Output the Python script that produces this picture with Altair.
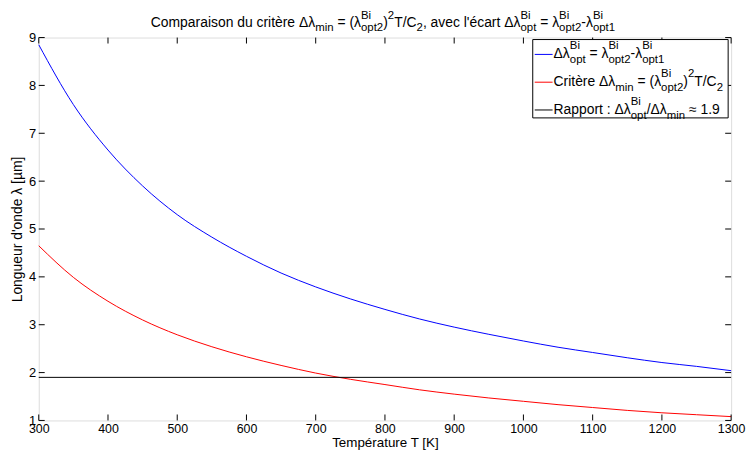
import altair as alt
import pandas as pd

# ---- data ----
temperature = [300, 350, 400, 450, 500, 550, 600, 650, 700, 750, 800,
               850, 900, 950, 1000, 1050, 1100, 1150, 1200, 1250, 1300]
delta_opt = [8.85, 7.60, 6.65, 5.90, 5.30, 4.83, 4.43, 4.08, 3.79, 3.54, 3.32,
             3.12, 2.95, 2.80, 2.66, 2.53, 2.42, 2.31, 2.21, 2.13, 2.04]
delta_min = [4.65, 3.99, 3.49, 3.10, 2.79, 2.54, 2.33, 2.15, 1.99, 1.86, 1.75,
             1.64, 1.55, 1.47, 1.40, 1.33, 1.27, 1.21, 1.16, 1.12, 1.08]
ratio_level = 1.9
x_ticks = [300, 400, 500, 600, 700, 800, 900, 1000, 1100, 1200, 1300]
y_ticks = [1, 2, 3, 4, 5, 6, 7, 8, 9]

x_title = "Température T [K]"
y_title = "Longueur d'onde λ [µm]"
# rich text: ("n", text) normal, ("sub", t), ("sup", t), ("ss", sup, sub) stacked
title_segments = [("n", "Comparaison du critère Δλ"), ("sub", "min"), ("n", " = (λ"),
                  ("ss", "Bi", "opt2"), ("n", ")"), ("sup", "2"), ("n", "T/C"), ("sub", "2"),
                  ("n", ", avec l'écart Δλ"), ("ss", "Bi", "opt"), ("n", " = λ"),
                  ("ss", "Bi", "opt2"), ("n", "-λ"), ("ss", "Bi", "opt1")]
legend_rows = [
    [("n", "Δλ"), ("ss", "Bi", "opt"), ("n", " = λ"), ("ss", "Bi", "opt2"),
     ("n", "-λ"), ("ss", "Bi", "opt1")],
    [("n", "Critère Δλ"), ("sub", "min"), ("n", " = (λ"), ("ss", "Bi", "opt2"),
     ("n", ")"), ("sup", "2"), ("n", "T/C"), ("sub", "2")],
    [("n", "Rapport : Δλ"), ("ss", "Bi", "opt"), ("n", "/Δλ"), ("sub", "min"),
     ("n", " ≈ 1.9")],
]
legend_colors = ["#0000ff", "#ff0000", "#000000"]

FONT = "Liberation Sans"
W, H = 698, 386
TICK = 6
BASE, SMALL = 14, 11.5

# Arial / Liberation Sans advance widths (1/1000 em)
ADV = {" ": 278, "'": 191, "(": 333, ")": 333, ",": 278, "-": 333, ".": 278, "/": 278,
       ":": 278, "=": 584, "≈": 584, "B": 667, "C": 722, "R": 722, "T": 611,
       "a": 556, "c": 500, "d": 556, "e": 556, "è": 556, "é": 556, "i": 222, "l": 222,
       "m": 833, "n": 556, "o": 556, "p": 556, "r": 333, "s": 500, "t": 278, "u": 556,
       "v": 500, "Δ": 668, "λ": 500}


def tw(s, size):
    return sum(ADV.get(ch, 556) for ch in s) * size / 1000.0


one = pd.DataFrame({"a": [0]})


def txt(s, x, y, size):
    lead = len(s) - len(s.lstrip(" "))
    return alt.Chart(one).mark_text(
        align="left", baseline="alphabetic", font=FONT, fontSize=size, color="black").encode(
        x=alt.value(x + tw(" " * lead, size)), y=alt.value(y), text=alt.value(s.strip(" ")))


def rich_width(segs):
    w = 0.0
    for seg in segs:
        if seg[0] == "n":
            w += tw(seg[1], BASE)
        elif seg[0] in ("sub", "sup"):
            w += tw(seg[1], SMALL)
        else:
            w += max(tw(seg[1], SMALL), tw(seg[2], SMALL))
    return w


def rich(segs, x0, yb, sub_dy, sup_dy):
    layers, x = [], x0
    for seg in segs:
        if seg[0] == "n":
            layers.append(txt(seg[1], x, yb, BASE))
            x += tw(seg[1], BASE)
        elif seg[0] == "sub":
            layers.append(txt(seg[1], x, yb + sub_dy, SMALL))
            x += tw(seg[1], SMALL)
        elif seg[0] == "sup":
            layers.append(txt(seg[1], x, yb + sup_dy, SMALL))
            x += tw(seg[1], SMALL)
        else:
            layers.append(txt(seg[1], x, yb + sup_dy, SMALL))
            layers.append(txt(seg[2], x, yb + sub_dy, SMALL))
            x += max(tw(seg[1], SMALL), tw(seg[2], SMALL))
    return layers


df = pd.DataFrame({"T": temperature, "opt": delta_opt, "min": delta_min})
xs = alt.Scale(domain=[300, 1300], nice=False, zero=False)
ys = alt.Scale(domain=[1, 9], nice=False, zero=False)

xaxis = alt.Axis(values=x_ticks, format="d", tickSize=0, domain=False, grid=False,
                 labelPadding=2, labelFont=FONT, labelFontSize=12.5, labelColor="black",
                 labelFlush=False, labelOverlap=False,
                 titleFont=FONT, titleFontSize=13.5, titleFontWeight="normal",
                 titleColor="black", titleBaseline="alphabetic", titleY=26)
yaxis = alt.Axis(values=y_ticks, format="d", tickSize=0, domain=False, grid=False,
                 labelPadding=3, labelFont=FONT, labelFontSize=13, labelColor="black",
                 labelFlush=False, labelOverlap=False,
                 titleFont=FONT, titleFontSize=14, titleFontWeight="normal",
                 titleColor="black", titlePadding=4)


def X(field):
    return alt.X(field, type="quantitative", scale=xs, axis=xaxis, title=x_title)


def Y(field):
    return alt.Y(field, type="quantitative", scale=ys, axis=yaxis, title=y_title)


blue = alt.Chart(df).mark_line(color="#0000ff", strokeWidth=1, interpolate="monotone").encode(
    x=X("T"), y=Y("opt"))
red = alt.Chart(df).mark_line(color="#ff0000", strokeWidth=1, interpolate="monotone").encode(
    x=X("T"), y=Y("min"))
rule_df = pd.DataFrame({"T0": [temperature[0]], "T1": [temperature[-1]], "v": [ratio_level]})
ratio = alt.Chart(rule_df).mark_rule(color="black", strokeWidth=1).encode(
    x=X("T0"), x2="T1", y=Y("v"))

xt = pd.DataFrame({"t": x_ticks})
yt = pd.DataFrame({"v": y_ticks})
xt_bottom = alt.Chart(xt).mark_rule(color="black", strokeWidth=1).encode(
    x=X("t"), y=alt.value(H), y2=alt.value(H - TICK))
xt_top = alt.Chart(xt).mark_rule(color="black", strokeWidth=1).encode(
    x=X("t"), y=alt.value(0), y2=alt.value(TICK))
yt_left = alt.Chart(yt).mark_rule(color="black", strokeWidth=1).encode(
    y=Y("v"), x=alt.value(0), x2=alt.value(TICK))
yt_right = alt.Chart(yt).mark_rule(color="black", strokeWidth=1).encode(
    y=Y("v"), x=alt.value(W - TICK), x2=alt.value(W))

title_w = rich_width(title_segments)
title_layers = rich(title_segments, W / 2 - 2 - title_w / 2, -11, 4, -8)

LX0, LX1, LY0, LY1 = 498, 695, 2, 81
legend_box = alt.Chart(one).mark_rect(fill="white", stroke="black", strokeWidth=1).encode(
    x=alt.value(LX0), x2=alt.value(LX1), y=alt.value(LY0), y2=alt.value(LY1))
legend_layers = [legend_box]
row_y = [17, 45, 73]
for segs, col, yy in zip(legend_rows, legend_colors, row_y):
    legend_layers.append(alt.Chart(one).mark_rule(color=col, strokeWidth=1).encode(
        x=alt.value(LX0 + 2), x2=alt.value(LX0 + 20), y=alt.value(yy)))
    legend_layers += rich(segs, LX0 + 21, yy + 4, 5, -9)

chart = alt.layer(blue, red, ratio, xt_bottom, xt_top, yt_left, yt_right,
                  *title_layers, *legend_layers).properties(
    width=W, height=H,
    autosize=alt.AutoSizeParams(type="none"),
    padding={"left": 31, "top": 28, "right": 16, "bottom": 29},
).configure_view(stroke="black", strokeWidth=1).configure(background="white")

chart.save("out.html", embed_options={"renderer": "svg", "actions": False})
